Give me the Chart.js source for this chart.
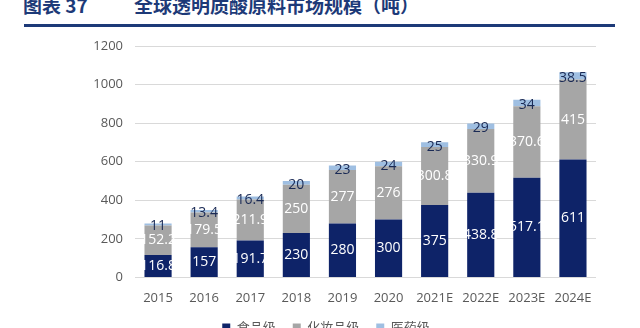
<!DOCTYPE html>
<html><head><meta charset="utf-8">
<script src="https://cdn.jsdelivr.net/npm/chart.js@4/dist/chart.umd.min.js"></script>
<style>
html,body{margin:0;padding:0;width:640px;height:328px;overflow:hidden;background:#fff;}
.t{position:absolute;top:-5px;line-height:20px;font-family:"Noto Sans CJK SC";font-weight:bold;font-size:19px;color:#1d3a78;white-space:nowrap;}
#t1{left:23px;}
#t2{left:134px;}
#rule{position:absolute;left:24px;top:24px;width:591px;height:3px;background:#1d3a78;}
#wrap{position:absolute;left:0;top:0;width:640px;height:344px;}
</style></head><body>
<div class="t" id="t1">图表 37</div>
<div class="t" id="t2">全球透明质酸原料市场规模（吨）</div>
<div id="rule"></div>
<div id="wrap"><canvas id="c" width="640" height="344"></canvas></div>
<script>
const categories = ["2015","2016","2017","2018","2019","2020","2021E","2022E","2023E","2024E"];
const foodGrade = [116.8,157,191.7,230,280,300,375,438.8,517.1,611];
const cosmeticGrade = [152.2,179.5,211.9,250,277,276,300.8,330.9,370.6,415];
const pharmaGrade = [11,13.4,16.4,20,23,24,25,29,34,38.5];
const seriesNames = ["食品级","化妆品级","医药级"];
const yTicks = [0,200,400,600,800,1000,1200];

const labelPlugin = {
  id:'segLabels',
  afterDatasetsDraw(chart){
    const ctx = chart.ctx;
    ctx.save();
    ctx.font = '14px "Open Sans", "DejaVu Sans", sans-serif';
    ctx.textAlign = 'center';
    ctx.textBaseline = 'middle';
    chart.data.datasets.forEach((ds,di)=>{
      const meta = chart.getDatasetMeta(di);
      meta.data.forEach((bar,i)=>{
        const v = ds.data[i];
        const yc = (bar.y + bar.base)/2;
        ctx.fillStyle = di===2 ? '#1a2a55' : '#ffffff';
        ctx.fillText(String(v), bar.x, di===2 ? yc+2 : yc);
      });
    });
    ctx.restore();
  }
};

new Chart(document.getElementById('c'),{
  type:'bar',
  data:{
    labels:categories,
    datasets:[
      {label:seriesNames[0],data:foodGrade,backgroundColor:'#0e2368'},
      {label:seriesNames[1],data:cosmeticGrade,backgroundColor:'#a6a6a6'},
      {label:seriesNames[2],data:pharmaGrade,backgroundColor:'#9fbfe2'}
    ]
  },
  options:{
    responsive:false,
    animation:false,
    layout:{padding:{top:46,right:44,left:56,bottom:0}},
    datasets:{bar:{categoryPercentage:0.62,barPercentage:0.95}},
    scales:{
      x:{stacked:true,grid:{display:false},border:{display:false},
         afterFit(ax){ax.height -= 7;},
         ticks:{color:'#595959',font:{size:13,family:'"Open Sans", sans-serif'},padding:5}},
      y:{stacked:true,min:0,max:1200,
         afterBuildTicks(ax){ax.ticks = yTicks.map(v=>({value:v}));},
         afterFit(ax){ax.width = 79;},
         grid:{color:'#d9d9d9',lineWidth:1,drawTicks:false},border:{display:false},
         ticks:{color:'#595959',font:{size:13,family:'"Open Sans", sans-serif'},padding:12,
                callback:(v)=>String(v)}}
    },
    plugins:{
      legend:{position:'bottom',labels:{boxWidth:8,boxHeight:8,color:'#595959',font:{size:13,family:'"Noto Sans CJK SC"'},padding:17}},
      tooltip:{enabled:false}
    }
  },
  plugins:[labelPlugin]
});
</script>
</body></html>
